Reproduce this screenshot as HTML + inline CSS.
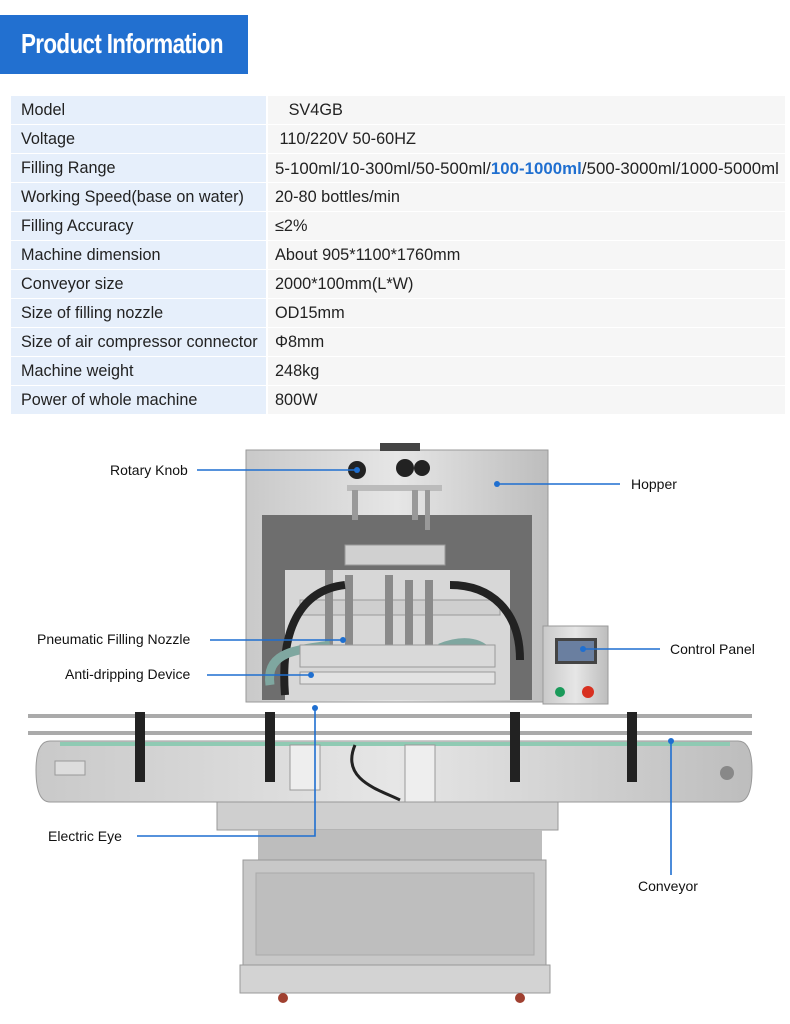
<!DOCTYPE html>
<html><head><meta charset="utf-8"><style>
*{margin:0;padding:0;box-sizing:border-box}
body{width:790px;height:1024px;background:#fff;position:relative;overflow:hidden;font-family:"Liberation Sans",sans-serif}
.hdr{position:absolute;left:0;top:15px;width:248px;height:59px;background:#2270d0}
.hdr span{position:absolute;left:21px;top:13px;color:#fff;font-weight:bold;font-size:28px;letter-spacing:-0.8px;transform:scaleX(0.8);transform-origin:left;white-space:nowrap}
.row{position:absolute;left:11px;width:774px;height:28px}
.row .l{position:absolute;left:0;top:0;width:255px;height:28px;background:#e6effb;font-size:16.2px;color:#222;padding:5px 0 0 10px;white-space:nowrap;letter-spacing:0px}
.row .r{position:absolute;left:257px;top:0;width:517px;height:28px;background:#f6f6f6;font-size:16.3px;color:#222;padding:5px 0 0 7px;white-space:nowrap;letter-spacing:0px}
</style></head><body>
<div class="hdr"><span>Product Information</span></div>

<div class="row" style="top:96px"><div class="l">Model</div><div class="r">&nbsp;&nbsp;&nbsp;SV4GB</div></div>
<div class="row" style="top:125px"><div class="l">Voltage</div><div class="r">&nbsp;110/220V 50-60HZ</div></div>
<div class="row" style="top:154px"><div class="l">Filling Range</div><div class="r" style="font-size:16.8px;letter-spacing:0.05px">5-100ml/10-300ml/50-500ml/<b style="color:#1f6fd0">100-1000ml</b>/500-3000ml/1000-5000ml</div></div>
<div class="row" style="top:183px"><div class="l">Working Speed(base on water)</div><div class="r">20-80 bottles/min</div></div>
<div class="row" style="top:212px"><div class="l">Filling Accuracy</div><div class="r">≤2%</div></div>
<div class="row" style="top:241px"><div class="l">Machine dimension</div><div class="r">About 905*1100*1760mm</div></div>
<div class="row" style="top:270px"><div class="l">Conveyor size</div><div class="r">2000*100mm(L*W)</div></div>
<div class="row" style="top:299px"><div class="l">Size of filling nozzle</div><div class="r">OD15mm</div></div>
<div class="row" style="top:328px"><div class="l">Size of air compressor connector</div><div class="r">Φ8mm</div></div>
<div class="row" style="top:357px"><div class="l">Machine weight</div><div class="r">248kg</div></div>
<div class="row" style="top:386px"><div class="l">Power of whole machine</div><div class="r">800W</div></div>

<svg style="position:absolute;left:0;top:0" width="790" height="1024" viewBox="0 0 790 1024">
<defs>
<linearGradient id="st" x1="0" x2="1"><stop offset="0" stop-color="#c9c9c9"/><stop offset=".5" stop-color="#e6e6e6"/><stop offset="1" stop-color="#bdbdbd"/></linearGradient>
</defs>
<rect x="246" y="450" width="302" height="252" fill="url(#st)" stroke="#999"/>
<rect x="262" y="515" width="270" height="185" fill="#6e6e6e"/>
<rect x="285" y="570" width="225" height="130" fill="#d7d7d7"/>
<rect x="380" y="443" width="40" height="8" fill="#444"/>
<circle cx="357" cy="470" r="9" fill="#222"/><circle cx="405" cy="468" r="9" fill="#222"/><circle cx="422" cy="468" r="8" fill="#222"/>
<rect x="347" y="485" width="95" height="6" fill="#bbb"/>
<rect x="352" y="490" width="6" height="30" fill="#999"/><rect x="412" y="490" width="6" height="30" fill="#999"/><rect x="425" y="490" width="5" height="40" fill="#999"/>
<rect x="345" y="545" width="100" height="20" fill="#d0d0d0" stroke="#999"/>
<rect x="300" y="600" width="200" height="15" fill="#cfcfcf" stroke="#999"/>
<g fill="#8a8a8a"><rect x="325" y="570" width="8" height="75"/><rect x="345" y="575" width="8" height="80"/><rect x="385" y="575" width="8" height="80"/><rect x="405" y="580" width="8" height="80"/><rect x="425" y="580" width="8" height="70"/></g>
<path d="M285 695 C280 630 300 590 345 585" stroke="#222" stroke-width="8" fill="none"/>
<path d="M520 660 C520 610 490 585 450 585" stroke="#222" stroke-width="8" fill="none"/>
<path d="M270 685 C265 650 300 650 330 645" stroke="#7fa7a0" stroke-width="9" fill="none"/>
<path d="M490 655 C480 640 460 640 440 648" stroke="#7fa7a0" stroke-width="9" fill="none"/>
<rect x="300" y="645" width="195" height="22" fill="#d9d9d9" stroke="#999"/>
<rect x="300" y="672" width="195" height="12" fill="#e2e2e2" stroke="#999"/>
<rect x="543" y="626" width="65" height="78" fill="url(#st)" stroke="#999"/>
<rect x="555" y="638" width="42" height="26" fill="#444"/><rect x="558" y="641" width="36" height="20" fill="#6a7fa0"/>
<circle cx="560" cy="692" r="5" fill="#1a9a5a"/><circle cx="588" cy="692" r="6" fill="#d83020"/>
<rect x="28" y="714" width="724" height="4" fill="#aaa"/><rect x="28" y="731" width="724" height="4" fill="#aaa"/>
<path d="M50 741 H738 Q752 741 752 770 Q752 802 738 802 H50 Q36 802 36 770 Q36 741 50 741Z" fill="url(#st)" stroke="#999"/>
<rect x="60" y="742" width="670" height="4" fill="#8fcab3"/>
<g fill="#222"><rect x="135" y="712" width="10" height="70"/><rect x="265" y="712" width="10" height="70"/><rect x="510" y="712" width="10" height="70"/><rect x="627" y="712" width="10" height="70"/></g>
<circle cx="727" cy="773" r="7" fill="#888"/>
<rect x="55" y="761" width="30" height="14" fill="#ddd" stroke="#999"/>
<rect x="290" y="745" width="30" height="45" fill="#eee" stroke="#999"/><rect x="405" y="745" width="30" height="60" fill="#eee" stroke="#999"/>
<path d="M355 745 C340 780 380 790 400 800" stroke="#222" stroke-width="3" fill="none"/>
<rect x="217" y="802" width="341" height="28" fill="#cfcfcf" stroke="#999"/>
<rect x="258" y="830" width="284" height="32" fill="#bdbdbd"/>
<rect x="243" y="860" width="303" height="105" fill="#c8c8c8" stroke="#999"/>
<rect x="256" y="873" width="278" height="82" fill="#bebebe" stroke="#aaa"/>
<rect x="240" y="965" width="310" height="28" fill="#d3d3d3" stroke="#999"/>
<circle cx="283" cy="998" r="5" fill="#a04030"/><circle cx="520" cy="998" r="5" fill="#a04030"/>
<g stroke="#1f6fd0" stroke-width="1.6" fill="none">
<line x1="197" y1="470" x2="357" y2="470"/>
<line x1="497" y1="484" x2="620" y2="484"/>
<line x1="210" y1="640" x2="343" y2="640"/>
<line x1="207" y1="675" x2="311" y2="675"/>
<line x1="583" y1="649" x2="660" y2="649"/>
<polyline points="137,836 315,836 315,708"/>
<line x1="671" y1="741" x2="671" y2="875"/>
</g>
<g fill="#1f6fd0"><circle cx="357" cy="470" r="3"/><circle cx="497" cy="484" r="3"/><circle cx="343" cy="640" r="3"/><circle cx="311" cy="675" r="3"/><circle cx="583" cy="649" r="3"/><circle cx="315" cy="708" r="3"/><circle cx="671" cy="741" r="3"/></g>
<g font-family="Liberation Sans, sans-serif" font-size="14" fill="#111">
<text x="110" y="475">Rotary Knob</text>
<text x="631" y="489">Hopper</text>
<text x="37" y="644">Pneumatic Filling Nozzle</text>
<text x="65" y="679">Anti-dripping Device</text>
<text x="670" y="654">Control Panel</text>
<text x="48" y="841">Electric Eye</text>
<text x="638" y="891">Conveyor</text>
</g>
</svg>
</body></html>
